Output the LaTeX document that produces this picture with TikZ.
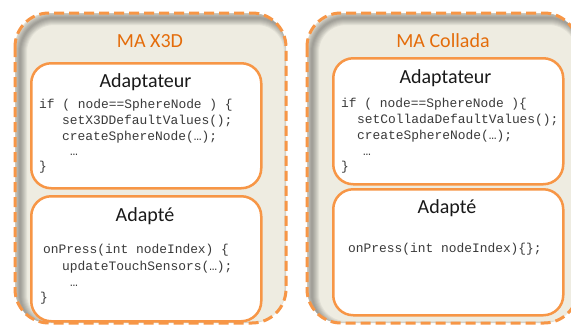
\documentclass[tikz,border=0pt]{standalone}
\usepackage{fontspec}
\setmainfont{Carlito}
\newfontfamily\codefont{Liberation Mono}
\definecolor{orng}{HTML}{F79646}
\definecolor{orngtxt}{HTML}{E46C0A}
\definecolor{beige}{HTML}{EEECE1}
\definecolor{codegray}{HTML}{3A3A3A}
\tikzset{
 outerbox/.style={draw=orng, line width=3pt, dash pattern=on 10pt off 5pt, rounded corners=34pt},
 innerbox/.style={draw=orng, line width=2.5pt, fill=white, rounded corners=20pt, inner sep=0pt, anchor=north west},
 titletext/.style={font=\fontsize{20}{24}\selectfont, text=orngtxt, anchor=base, inner sep=0pt},
 headtext/.style={font=\fontsize{20}{24}\selectfont, text=black!90, anchor=base, inner sep=0pt},
 codetext/.style={font=\codefont\fontsize{12.9}{16}\selectfont, text=codegray, anchor=base west, inner sep=0pt},
}
\begin{document}
\begin{tikzpicture}[x=1pt,y=-1pt]
\clip (0,0) rectangle (571,325);
\fill[white] (0,0) rectangle (571,325);
% outer boxes with inner shadow
\foreach \xa/\xb in {15/286, 307/578}{
  \begin{scope}
    \clip[rounded corners=34pt] (\xa,13) rectangle (\xb,323);
    \fill[beige] (\xa,13) rectangle (\xb,323);
    \foreach \w in {2,4,...,14}
      \draw[black, opacity=0.05, line width=\w pt, rounded corners=34pt] (\xa+5,18) rectangle (\xb+5,328);
  \end{scope}
  \draw[outerbox] (\xa,13) rectangle (\xb,323);
}
% titles
\node[titletext] (t1) at (150,47.5) {MA X3D};
\node[titletext] (t2) at (443,47) {MA Collada};
% left inner boxes
\node[innerbox, minimum width=230pt, minimum height=125pt] (a1) at (30,62) {};
\node[innerbox, minimum width=230pt, minimum height=125pt] (b1) at (30,195) {};
% right inner boxes
\node[innerbox, minimum width=230pt, minimum height=126pt] (a2) at (332,57) {};
\node[innerbox, minimum width=230pt, minimum height=126pt] (b2) at (332,188) {};
% headings
\node[headtext] (h1) at (145.5,87) {Adaptateur};
\node[headtext] (h2) at (145,221) {Adapté};
\node[headtext] (h3) at (445.5,83) {Adaptateur};
\node[headtext] (h4) at (447,213) {Adapté};
% left code
\node[codetext] (c11) at (39,108) {if ( node==SphereNode ) \{};
\node[codetext] (c12) at (62,124) {setX3DDefaultValues();};
\node[codetext] (c13) at (62,140) {createSphereNode(…);};
\node[codetext] (c14) at (70,155) {…};
\node[codetext] (c15) at (39,170) {\}};
\node[codetext] (c21) at (43,253) {onPress(int nodeIndex) \{};
\node[codetext] (c22) at (62,270) {updateTouchSensors(…);};
\node[codetext] (c23) at (70,286) {…};
\node[codetext] (c24) at (40,301) {\}};
% right code
\node[codetext] (d11) at (341,107.5) {if ( node==SphereNode )\{};
\node[codetext] (d12) at (357,123) {setColladaDefaultValues();};
\node[codetext] (d13) at (357,139.5) {createSphereNode(…);};
\node[codetext] (d14) at (363,155) {…};
\node[codetext] (d15) at (341,170) {\}};
\node[codetext] (d21) at (348,252.5) {onPress(int nodeIndex)\{\};};
\end{tikzpicture}
\end{document}
